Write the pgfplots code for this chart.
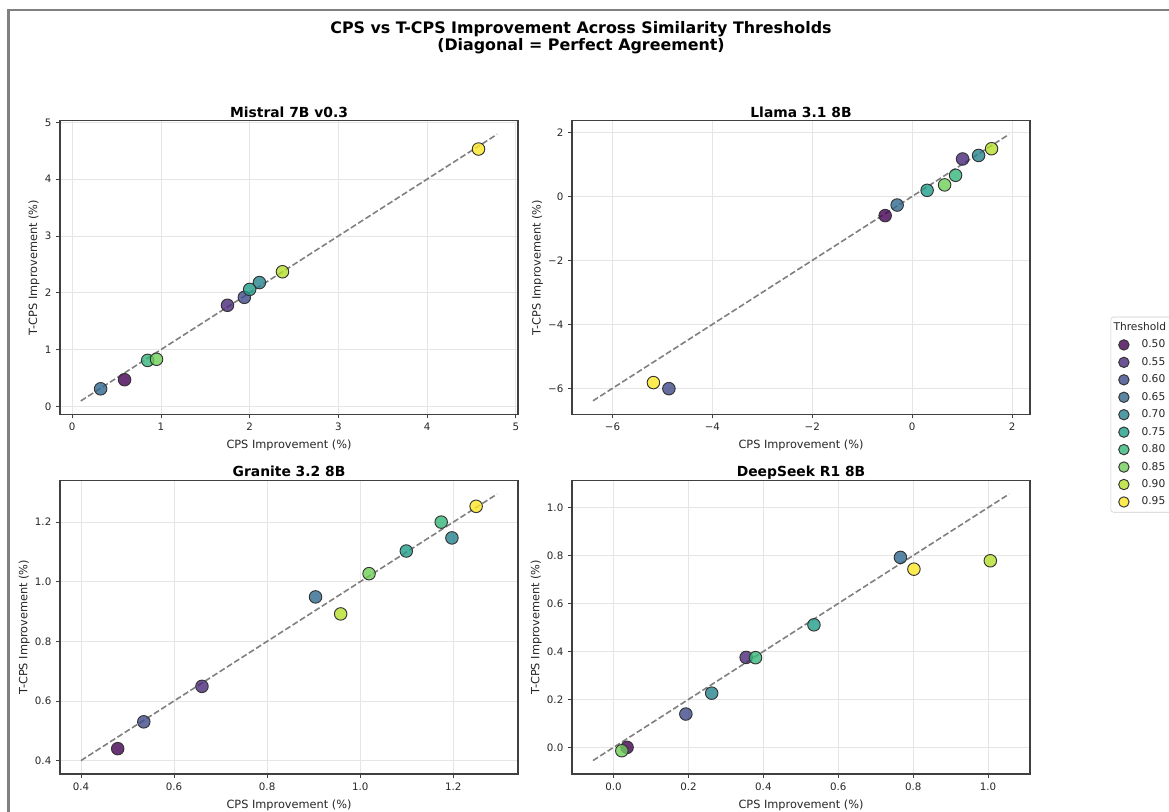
\documentclass[border=0pt]{standalone}
\usepackage{fontspec}
\setmainfont{DejaVu Sans}
\usepackage{pgfplots}
\pgfplotsset{compat=1.18}
\definecolor{c50}{HTML}{440154}
\definecolor{c55}{HTML}{482878}
\definecolor{c60}{HTML}{3E4989}
\definecolor{c65}{HTML}{31688E}
\definecolor{c70}{HTML}{26828E}
\definecolor{c75}{HTML}{1F9E89}
\definecolor{c80}{HTML}{35B779}
\definecolor{c85}{HTML}{6ECE58}
\definecolor{c90}{HTML}{B5DE2B}
\definecolor{c95}{HTML}{FDE725}
\newcommand\ticksize{\fontsize{7.7}{9}\selectfont}
\newcommand\labsize{\fontsize{8.5}{10}\selectfont}
\newcommand\titsize{\bfseries\fontsize{10.4}{12}\selectfont}
\newcommand\legsize{\fontsize{8}{9.5}\selectfont}
\newcommand\mtitle{\bfseries\fontsize{11.9}{13.5}\selectfont}
\newcommand\legtxt[1]{\makebox[40pt][l]{#1}}
\pgfplotsset{
  myax/.style={
    scale only axis, width=343.5pt, height=220pt, anchor=south west,
    axis line style={black!75, line width=0.8pt},
    tick align=outside, tick pos=left, major tick length=3pt,
    tick style={black!75, line width=0.6pt},
    grid=major, major grid style={black!10, line width=0.6pt},
    ticklabel style={font=\ticksize, text=black!85},
    label style={font=\labsize, text=black!85},
    title style={font=\titsize, at={(0.5,1)}, anchor=base, yshift=-3.2pt},
    ylabel shift=-3pt,
    xlabel={CPS Improvement (\%)}, ylabel={T-CPS Improvement (\%)},
    /pgf/number format/assume math mode=true,
  },
  pt/.style={only marks, mark=*, mark size=4.7pt,
    mark options={draw=black!80, fill=#1, fill opacity=0.8, line width=0.7pt}},
  diag/.style={black!50, line width=1.2pt, dash pattern=on 4.5pt off 2pt, forget plot},
}
\begin{document}
\begin{tikzpicture}
\useasboundingbox (0,0) rectangle (876.75pt,609pt);
\clip (0,0) rectangle (876.75pt,609pt);
\draw[black!50, line width=1.8pt] (6.4pt,-10pt) -- (6.4pt,601.5pt) -- (890pt,601.5pt);
\node[font=\mtitle, anchor=base] at (435.75pt,583.8pt) {CPS vs T-CPS Improvement Across Similarity Thresholds};
\node[font=\mtitle, anchor=base] at (435.75pt,570.8pt) {(Diagonal = Perfect Agreement)};

% Mistral
\begin{axis}[myax, at={(45pt,298.3pt)}, title={Mistral 7B v0.3},
  xmin=-0.138, xmax=5.025, ymin=-0.138, ymax=5.025,
  xtick={0,1,2,3,4,5}, ytick={0,1,2,3,4,5}]
\addplot[diag] coordinates {(0.097,0.097) (4.79,4.79)};
\addplot[pt=c50] coordinates {(0.59,0.47)};
\addplot[pt=c55] coordinates {(1.75,1.78)};
\addplot[pt=c60] coordinates {(1.94,1.92)};
\addplot[pt=c65] coordinates {(0.32,0.31)};
\addplot[pt=c70] coordinates {(2.11,2.18)};
\addplot[pt=c75] coordinates {(2.00,2.06)};
\addplot[pt=c80] coordinates {(0.85,0.81)};
\addplot[pt=c85] coordinates {(0.95,0.83)};
\addplot[pt=c90] coordinates {(2.37,2.37)};
\addplot[pt=c95] coordinates {(4.58,4.53)};
\end{axis}

% Llama
\begin{axis}[myax, at={(429pt,298.3pt)}, title={Llama 3.1 8B},
  xmin=-6.81, xmax=2.36, ymin=-6.81, ymax=2.36,
  xtick={-6,-4,-2,0,2}, ytick={-6,-4,-2,0,2},
  xticklabels={−6,−4,−2,0,2}, yticklabels={−6,−4,−2,0,2},
  legend style={at={(1.176,0.3325)}, anchor=north west, draw=black!20,
    rounded corners=2pt, font=\legsize, text=black!85, row sep=1.65pt},
  legend cell align=left,
  legend image code/.code={\path[draw=none,fill=none] (0pt,0pt) -- (18pt,0pt);
    \draw[#1, mark size=3.9pt] plot coordinates {(6.75pt,0pt)};}]
\addplot[diag] coordinates {(-6.39,-6.39) (1.94,1.94)};
\addlegendimage{empty legend}
\addlegendentry{\legtxt{\hspace*{-21pt}Threshold}}
\addplot[pt=c50] coordinates {(-0.54,-0.60)}; \addlegendentry{\legtxt{0.50}}
\addplot[pt=c55] coordinates {(1.01,1.17)}; \addlegendentry{\legtxt{0.55}}
\addplot[pt=c60] coordinates {(-4.87,-6.01)}; \addlegendentry{\legtxt{0.60}}
\addplot[pt=c65] coordinates {(-0.30,-0.27)}; \addlegendentry{\legtxt{0.65}}
\addplot[pt=c70] coordinates {(1.33,1.28)}; \addlegendentry{\legtxt{0.70}}
\addplot[pt=c75] coordinates {(0.30,0.19)}; \addlegendentry{\legtxt{0.75}}
\addplot[pt=c80] coordinates {(0.87,0.66)}; \addlegendentry{\legtxt{0.80}}
\addplot[pt=c85] coordinates {(0.65,0.36)}; \addlegendentry{\legtxt{0.85}}
\addplot[pt=c90] coordinates {(1.59,1.49)}; \addlegendentry{\legtxt{0.90}}
\addplot[pt=c95] coordinates {(-5.18,-5.82)}; \addlegendentry{\legtxt{0.95}}
\end{axis}

% Granite
\begin{axis}[myax, at={(45pt,28.5pt)}, title={Granite 3.2 8B},
  xmin=0.355, xmax=1.339, ymin=0.355, ymax=1.339,
  xtick={0.4,0.6,0.8,1.0,1.2}, ytick={0.4,0.6,0.8,1.0,1.2},
  xticklabels={0.4,0.6,0.8,1.0,1.2}, yticklabels={0.4,0.6,0.8,1.0,1.2}]
\addplot[diag] coordinates {(0.40,0.40) (1.294,1.294)};
\addplot[pt=c50] coordinates {(0.479,0.440)};
\addplot[pt=c55] coordinates {(0.660,0.649)};
\addplot[pt=c60] coordinates {(0.535,0.530)};
\addplot[pt=c65] coordinates {(0.904,0.949)};
\addplot[pt=c70] coordinates {(1.197,1.147)};
\addplot[pt=c75] coordinates {(1.099,1.103)};
\addplot[pt=c80] coordinates {(1.174,1.200)};
\addplot[pt=c85] coordinates {(1.019,1.027)};
\addplot[pt=c90] coordinates {(0.958,0.892)};
\addplot[pt=c95] coordinates {(1.249,1.253)};
\end{axis}

% DeepSeek
\begin{axis}[myax, at={(429pt,28.5pt)}, title={DeepSeek R1 8B},
  xmin=-0.111, xmax=1.112, ymin=-0.111, ymax=1.112,
  xtick={0,0.2,0.4,0.6,0.8,1.0}, ytick={0,0.2,0.4,0.6,0.8,1.0},
  xticklabels={0.0,0.2,0.4,0.6,0.8,1.0}, yticklabels={0.0,0.2,0.4,0.6,0.8,1.0}]
\addplot[diag] coordinates {(-0.055,-0.055) (1.056,1.056)};
\addplot[pt=c50] coordinates {(0.036,0.000)};
\addplot[pt=c55] coordinates {(0.354,0.375)};
\addplot[pt=c60] coordinates {(0.193,0.139)};
\addplot[pt=c65] coordinates {(0.766,0.792)};
\addplot[pt=c70] coordinates {(0.262,0.226)};
\addplot[pt=c75] coordinates {(0.535,0.511)};
\addplot[pt=c80] coordinates {(0.379,0.374)};
\addplot[pt=c85] coordinates {(0.022,-0.014)};
\addplot[pt=c90] coordinates {(1.006,0.778)};
\addplot[pt=c95] coordinates {(0.802,0.743)};
\end{axis}
\end{tikzpicture}
\end{document}
